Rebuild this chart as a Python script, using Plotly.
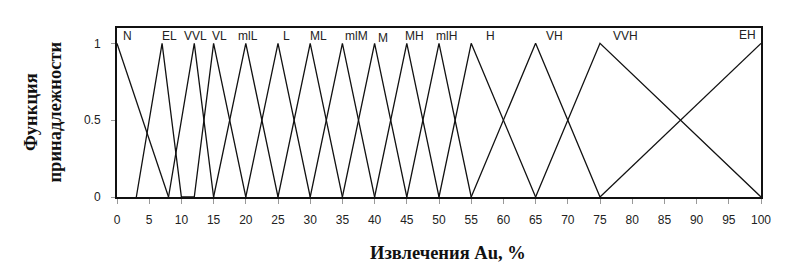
import plotly.graph_objects as go

# Membership function terms and breakpoints (x in %, y membership)
terms = ["N", "EL", "VVL", "VL", "mlL", "L", "ML", "mlM", "M", "MH", "mlH", "H", "VH", "VVH", "EH"]
term_x = [
    [0, 8],
    [3, 7, 10],
    [8, 12, 15],
    [10, 12, 15, 20],
    [15, 20, 25],
    [20, 25, 30],
    [25, 30, 35],
    [30, 35, 40],
    [35, 40, 45],
    [40, 45, 50],
    [45, 50, 55],
    [50, 55, 65],
    [55, 65, 75],
    [65, 75, 100],
    [75, 100],
]
term_y = [
    [1, 0],
    [0, 1, 0],
    [0, 1, 0],
    [0, 0, 1, 0],
    [0, 1, 0],
    [0, 1, 0],
    [0, 1, 0],
    [0, 1, 0],
    [0, 1, 0],
    [0, 1, 0],
    [0, 1, 0],
    [0, 1, 0],
    [0, 1, 0],
    [0, 1, 0],
    [0, 1],
]
peaks = [0, 7, 12, 15, 20, 25, 30, 35, 40, 45, 50, 55, 65, 75, 100]
x_ticks = list(range(0, 101, 5))
y_ticks = [0, 0.5, 1]
y_tick_labels = ["0", "0.5", "1"]

# label pixel shifts relative to peak (layout only)
label_shift = [10, 7, 1, 6, 2, 8, 8, 14, 8, 8, 7, 19, 19, 25, -14]
label_yshift = [0, 0, 0, 0, 0, 0, 0, 0, -2, 0, 0, 0, 0, 0, 1]

fig = go.Figure()
for name, xs, ys in zip(terms, term_x, term_y):
    fig.add_trace(go.Scatter(x=xs, y=ys, mode="lines", name=name,
                             line=dict(color="#111111", width=1.3),
                             showlegend=False, hoverinfo="skip"))

for name, px, dx, dy in zip(terms, peaks, label_shift, label_yshift):
    fig.add_annotation(x=px, y=1.045, xref="x", yref="y", text=name, showarrow=False,
                       xshift=dx, yshift=dy, xanchor="center", yanchor="middle",
                       font=dict(family="Liberation Sans, Arial, sans-serif", size=12, color="#222222"))

fig.add_annotation(x=-0.1164, y=0.5, xref="paper", yref="paper",
                   text="<b>Функция<br>принадлежности</b>", textangle=-90, showarrow=False,
                   xanchor="center", yanchor="middle",
                   font=dict(family="Liberation Serif, Times New Roman, serif", size=18.5, color="#111111"))
fig.add_annotation(x=0.5, y=-0.333, xref="paper", yref="paper",
                   text="<b>Извлечения Au, %</b>", showarrow=False,
                   xanchor="center", yanchor="middle", xshift=9,
                   font=dict(family="Liberation Serif, Times New Roman, serif", size=18.5, color="#111111"))

fig.update_layout(
    width=787, height=269,
    margin=dict(l=109, r=34, t=20, b=80),
    paper_bgcolor="white", plot_bgcolor="white",
    font=dict(family="Liberation Sans, Arial, sans-serif", size=12, color="#222222"),
)
fig.update_xaxes(range=[0, 100], tickvals=x_ticks, ticktext=[str(v) for v in x_ticks],
                 showgrid=False, zeroline=False, showline=True, mirror=True,
                 linecolor="#111111", linewidth=2, ticks="outside", ticklen=5,
                 tickcolor="#999999", tickwidth=1, ticklabelstandoff=6)
fig.update_yaxes(range=[0, 1.1], tickvals=y_ticks, ticktext=y_tick_labels,
                 showgrid=False, zeroline=False, showline=True, mirror=True,
                 linecolor="#111111", linewidth=2, ticks="outside", ticklen=4,
                 tickcolor="#999999", tickwidth=1, ticklabelstandoff=8)

fig.write_html("out.html")
